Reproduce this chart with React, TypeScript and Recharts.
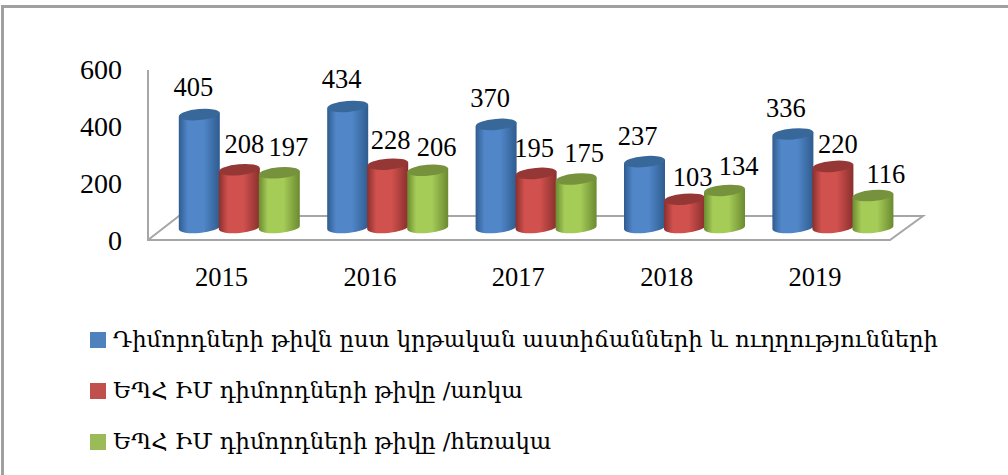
import React from 'react';
import { BarChart, Bar, XAxis, YAxis, LabelList, Legend, Customized } from 'recharts';

const years = ['2015', '2016', '2017', '2018', '2019'];
const total = [405, 434, 370, 237, 336];
const fullTime = [208, 228, 195, 103, 220];
const partTime = [197, 206, 175, 134, 116];
const yTicks = [0, 200, 400, 600];
const seriesNames = [
  'Դիմորդների թիվն ըստ կրթական աստիճանների և ուղղությունների',
  'ԵՊՀ ԻՄ դիմորդների թիվը /առկա',
  'ԵՊՀ ԻՄ դիմորդների թիվը /հեռակա',
];

// Hand-placed data label nudges (layout only), as in the source chart
const nudgeTotal = [[-6, -2], [-6, -1], [-6, 0], [-7, 0], [-7, 0]];
const nudgeFull = [[5, 0], [3, 2], [-2, 1], [8, 4], [5, 4]];
const nudgeHalf = [[9, 0], [9, 3], [8, 0], [14, 2], [13, 4]];

const rows = years.map((y, i) => ({ year: y, total: total[i], full: fullTime[i], half: partTime[i] }));

const SERIF = '"Liberation Serif", serif';
const LEGEND_FONT = '"DejaVu Serif", serif';
const palette = {
  blue: { id: 'cylBlue', edge: '#2f5c8f', mid: '#5187c9', top: '#376899', swatch: '#4f81bd' },
  red: { id: 'cylRed', edge: '#8a2f2d', mid: '#d0514e', top: '#953735', swatch: '#c0504d' },
  green: { id: 'cylGreen', edge: '#6b8a30', mid: '#a6cc58', top: '#76923c', swatch: '#9bbb59' },
};

const Cylinder = (c: any) => (props: any) => {
  const { x, y, width, height } = props;
  const cx = x + width / 2;
  const rx = width / 2 + 0.5;
  const ry = 5.5;
  const bottom = y + height;
  const tilt = 1.8;
  const left = cx - rx;
  const right = cx + rx;
  const body = `M${left},${y + tilt} L${left},${bottom + tilt - 0.5} A${rx},${ry} -5 0 0 ${right},${bottom - tilt - 0.5} L${right},${y - tilt} Z`;
  return (
    <g>
      <path d={body} fill={`url(#${c.id})`} />
      <ellipse cx={cx} cy={y} rx={rx} ry={ry} fill={c.top} transform={`rotate(-5 ${cx} ${y})`} />
    </g>
  );
};

const Floor = () => (
  <g>
    <polyline points="148,70 148,240 890,240 923,216 179,216 148,240" fill="none" stroke="#a6a6a6" strokeWidth={2} />
  </g>
);

const Defs = () => (
  <defs>
    {Object.values(palette).map((c) => (
      <linearGradient key={c.id} id={c.id} x1="0" x2="1" y1="0" y2="0">
        <stop offset="0" stopColor={c.edge} />
        <stop offset="0.22" stopColor={c.mid} />
        <stop offset="0.6" stopColor={c.mid} />
        <stop offset="1" stopColor={c.edge} />
      </linearGradient>
    ))}
  </defs>
);

const nudgedLabel = (nudge: number[][]) => (props: any) => {
  const { x, y, width, value, index } = props;
  const [dx, dy] = nudge[index];
  return (
    <text
      x={x + width / 2 + dx}
      y={y + dy - 17}
      textAnchor="middle"
      fontFamily={SERIF}
      fontSize={26.5}
      fill="#000"
    >
      {value}
    </text>
  );
};

const LegendRows = ({ payload }: any) => (
  <div style={{ position: 'relative' }}>
    {(payload || []).map((p: any, i: number) => (
      <div
        key={p.value}
        style={{ position: 'absolute', left: 0, top: i * 51, display: 'flex', alignItems: 'center', height: 16, whiteSpace: 'nowrap' }}
      >
        <span style={{ width: 16, height: 16, background: [palette.blue, palette.red, palette.green][i].swatch, marginRight: 7, flex: 'none' }} />
        <span style={{ fontFamily: LEGEND_FONT, fontSize: 22.7, color: '#000', position: 'relative', top: -1 }}>{p.value}</span>
      </div>
    ))}
  </div>
);

export default function App() {
  return (
    <div style={{ position: 'absolute', left: 0, top: 0, width: 1008, height: 475, background: '#fff' }}>
      <div style={{ position: 'absolute', left: 1, top: 5, width: 1007, height: 470, borderLeft: '3px solid #a0a0a0', borderTop: '3px solid #a0a0a0', boxSizing: 'border-box' }} />
      <BarChart
        width={1008}
        height={475}
        data={rows}
        margin={{ top: 60, right: 100.7, bottom: 197, left: 105.3 }}
        barSize={40}
        barGap={0}
        style={{ position: 'absolute', left: 0, top: 0 }}
      >
        <Customized component={Defs} />
        <Customized component={Floor} />
        <XAxis
          dataKey="year"
          axisLine={false}
          tickLine={false}
          height={50}
          interval={0}
          tick={({ x, payload }: any) => (
            <text x={x - 18} y={286} textAnchor="middle" fontFamily={SERIF} fontSize={26.5} fill="#000">{payload.value}</text>
          )}
        />
        <YAxis
          domain={[0, 600]}
          ticks={yTicks}
          axisLine={false}
          tickLine={false}
          width={60}
          tick={({ y, payload }: any) => (
            <text x={122} y={250 + (y - 228) * (57 / 56)} textAnchor="end" fontFamily={SERIF} fontSize={28} fill="#000">{payload.value}</text>
          )}
        />
        <Legend
          layout="horizontal"
          align="center"
          verticalAlign="middle"
          content={<LegendRows />}
          wrapperStyle={{ position: 'absolute', left: 90, top: 332, width: 880, height: 120 }}
        />
        <Bar dataKey="total" name={seriesNames[0]} fill={palette.blue.swatch} isAnimationActive={false} shape={Cylinder(palette.blue)}>
          <LabelList dataKey="total" content={nudgedLabel(nudgeTotal)} />
        </Bar>
        <Bar dataKey="full" name={seriesNames[1]} fill={palette.red.swatch} isAnimationActive={false} shape={Cylinder(palette.red)}>
          <LabelList dataKey="full" content={nudgedLabel(nudgeFull)} />
        </Bar>
        <Bar dataKey="half" name={seriesNames[2]} fill={palette.green.swatch} isAnimationActive={false} shape={Cylinder(palette.green)}>
          <LabelList dataKey="half" content={nudgedLabel(nudgeHalf)} />
        </Bar>
      </BarChart>
    </div>
  );
}
